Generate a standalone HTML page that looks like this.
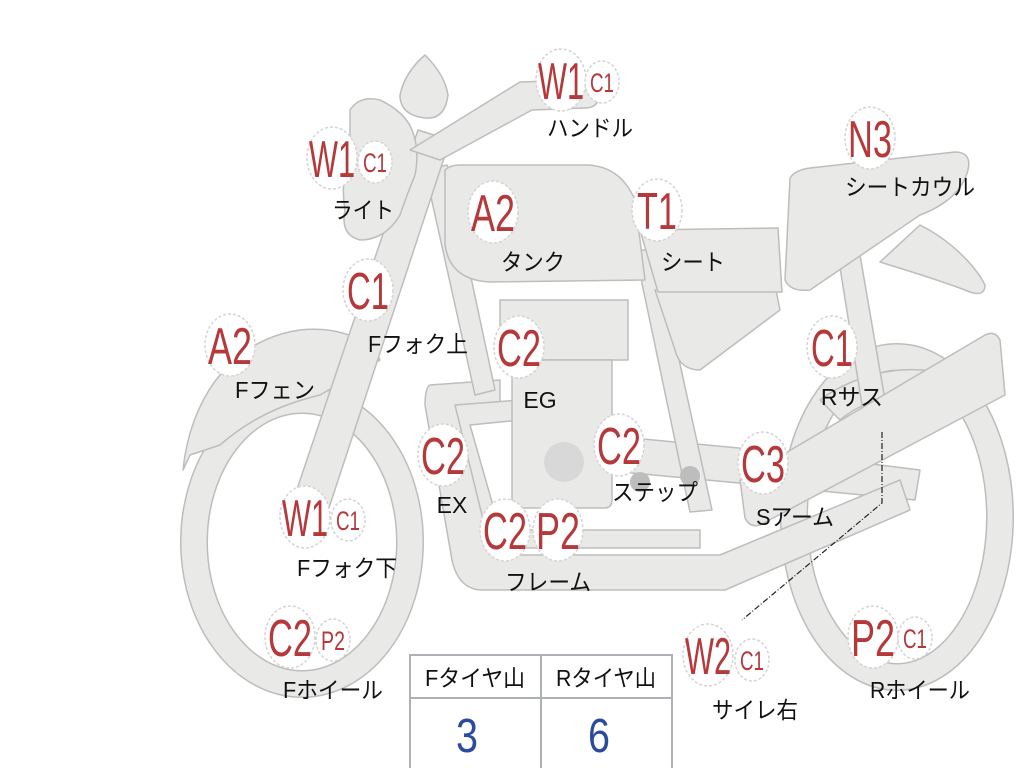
<!DOCTYPE html>
<html><head><meta charset="utf-8">
<style>
html,body{margin:0;padding:0;background:#fff;}
svg{display:block;}
.big{font-family:"Liberation Sans",sans-serif;fill:#b5383a;font-size:52px;text-anchor:middle;}
.sm{font-family:"Liberation Sans",sans-serif;fill:#b5383a;font-size:27px;text-anchor:middle;}
.lb{font-family:"Liberation Sans","Noto Sans CJK JP",sans-serif;fill:#111;font-size:23px;text-anchor:middle;}
.bc{fill:#fff;stroke:#d4d4d4;stroke-width:1.5;stroke-dasharray:3 2;}
</style></head><body>
<svg width="1024" height="768" viewBox="0 0 1024 768" xmlns="http://www.w3.org/2000/svg">
<g fill="#e9e9e7" stroke="#bdbdbd" stroke-width="1.5" stroke-linejoin="round">
<ellipse cx="302" cy="542" rx="108" ry="142" fill="none" stroke="#bdbdbd" stroke-width="28"/>
<ellipse cx="302" cy="542" rx="108" ry="142" fill="none" stroke="#e9e9e7" stroke-width="25"/>
<ellipse cx="897" cy="517" rx="103" ry="160" fill="none" stroke="#bdbdbd" stroke-width="28"/>
<ellipse cx="897" cy="517" rx="103" ry="160" fill="none" stroke="#e9e9e7" stroke-width="25"/>
<path d="M183,470 C190,400 230,340 300,330 C340,326 370,340 380,360 L320,395 C300,400 260,410 220,445 L190,455 Z"/>
<path d="M820,400 C860,370 920,360 960,380 L955,400 C920,385 870,395 840,420 Z"/>
<path d="M600,435 L760,450 L920,470 L915,500 L760,485 L600,470 Z"/>
<path d="M430,385 L500,380 L500,405 L460,410 L495,555 L720,555 L900,480 L910,510 L725,590 L480,590 Q458,588 452,560 L425,405 Q425,388 430,385 Z"/>
<path d="M455,405 L520,400 L520,420 L470,425 L500,530 L700,530 L700,548 L490,548 Z"/>
<path d="M425,170 L447,165 L495,390 L475,395 Z"/>
<rect x="500" y="300" width="128" height="60"/>
<path d="M512,360 L612,360 L612,500 Q612,508 604,508 L520,508 Q512,508 512,500 Z"/>
<circle cx="564" cy="462" r="20" fill="#d8d8d8" stroke="none"/>
<path d="M635,250 L655,250 L712,510 L690,512 Z"/>
<circle cx="640" cy="482" r="10" fill="#bdbdbd" stroke="none"/>
<circle cx="690" cy="476" r="10" fill="#bdbdbd" stroke="none"/>
<path d="M655,290 L775,285 L780,310 L700,370 Q680,370 675,350 Z"/>
<path d="M640,230 L778,228 L782,292 L658,292 Z"/>
<path d="M838,255 L860,255 L885,400 L862,405 Z"/>
<path d="M920,225 C950,240 975,265 985,285 Q985,297 970,292 C940,280 905,270 880,262 Z"/>
<path d="M790,178 Q795,170 810,168 L955,152 Q972,152 968,170 Q960,200 920,215 L810,290 Q790,292 785,280 Z"/>
<path d="M740,480 L985,335 Q995,330 1000,340 L1005,395 L760,525 Q750,528 745,518 Z"/>
<path d="M418,130 L450,140 L325,520 L290,510 Z"/>
<path d="M445,170 Q450,165 460,165 L585,165 Q620,165 635,200 L645,280 L490,282 Q450,280 445,245 Z"/>
<path d="M350,110 Q360,95 380,100 Q405,112 412,130 Q420,150 415,175 Q405,200 400,215 Q385,240 360,240 Q340,235 345,210 Q340,180 350,150 Z"/>
<path d="M410,150 L520,82 L585,80 Q600,82 600,95 Q598,108 585,108 L532,110 L440,160 Z"/>
<path d="M425,55 Q445,75 448,95 Q445,120 425,118 Q400,115 400,95 Q405,72 425,55 Z"/>
</g>
<path d="M882,432 L882,503 L742,620" fill="none" stroke="#222" stroke-width="1.2" stroke-dasharray="6 2 1 2"/>
<g>
<ellipse class="bc" cx="561" cy="80" rx="25" ry="31"/><text class="big" x="561" y="99" textLength="46" lengthAdjust="spacingAndGlyphs">W1</text>
<ellipse class="bc" cx="602" cy="82" rx="17" ry="21"/><text class="sm" x="602" y="92" textLength="24" lengthAdjust="spacingAndGlyphs">C1</text>
<text class="lb" x="590" y="136" textLength="86" lengthAdjust="spacingAndGlyphs">ハンドル</text>

<ellipse class="bc" cx="332" cy="158" rx="25" ry="31"/><text class="big" x="332" y="177" textLength="46" lengthAdjust="spacingAndGlyphs">W1</text>
<ellipse class="bc" cx="375" cy="162" rx="17" ry="21"/><text class="sm" x="375" y="172" textLength="24" lengthAdjust="spacingAndGlyphs">C1</text>
<text class="lb" x="363" y="218" textLength="62" lengthAdjust="spacingAndGlyphs">ライト</text>

<ellipse class="bc" cx="493" cy="212" rx="25" ry="31"/><text class="big" x="493" y="231" textLength="44" lengthAdjust="spacingAndGlyphs">A2</text>
<text class="lb" x="533" y="270" textLength="64" lengthAdjust="spacingAndGlyphs">タンク</text>

<ellipse class="bc" cx="657" cy="210" rx="25" ry="31"/><text class="big" x="657" y="229" textLength="40" lengthAdjust="spacingAndGlyphs">T1</text>
<text class="lb" x="693" y="270" textLength="64" lengthAdjust="spacingAndGlyphs">シート</text>

<ellipse class="bc" cx="870" cy="138" rx="25" ry="31"/><text class="big" x="870" y="157" textLength="44" lengthAdjust="spacingAndGlyphs">N3</text>
<text class="lb" x="910" y="195" textLength="130" lengthAdjust="spacingAndGlyphs">シートカウル</text>

<ellipse class="bc" cx="368" cy="290" rx="25" ry="31"/><text class="big" x="368" y="309" textLength="42" lengthAdjust="spacingAndGlyphs">C1</text>
<text class="lb" x="418" y="352" textLength="100" lengthAdjust="spacingAndGlyphs">Fフォク上</text>

<ellipse class="bc" cx="230" cy="345" rx="25" ry="31"/><text class="big" x="230" y="364" textLength="44" lengthAdjust="spacingAndGlyphs">A2</text>
<text class="lb" x="275" y="398" textLength="80" lengthAdjust="spacingAndGlyphs">Fフェン</text>

<ellipse class="bc" cx="519" cy="347" rx="25" ry="31"/><text class="big" x="519" y="366" textLength="44" lengthAdjust="spacingAndGlyphs">C2</text>
<text class="lb" x="540" y="408">EG</text>

<ellipse class="bc" cx="832" cy="347" rx="25" ry="31"/><text class="big" x="832" y="366" textLength="42" lengthAdjust="spacingAndGlyphs">C1</text>
<text class="lb" x="852" y="405">Rサス</text>

<ellipse class="bc" cx="443" cy="455" rx="25" ry="31"/><text class="big" x="443" y="474" textLength="44" lengthAdjust="spacingAndGlyphs">C2</text>
<text class="lb" x="452" y="513">EX</text>

<ellipse class="bc" cx="619" cy="445" rx="25" ry="31"/><text class="big" x="619" y="464" textLength="44" lengthAdjust="spacingAndGlyphs">C2</text>
<text class="lb" x="655" y="500" textLength="86" lengthAdjust="spacingAndGlyphs">ステップ</text>

<ellipse class="bc" cx="763" cy="463" rx="25" ry="31"/><text class="big" x="763" y="482" textLength="44" lengthAdjust="spacingAndGlyphs">C3</text>
<text class="lb" x="795" y="525" textLength="78" lengthAdjust="spacingAndGlyphs">Sアーム</text>

<ellipse class="bc" cx="305" cy="517" rx="25" ry="31"/><text class="big" x="305" y="536" textLength="46" lengthAdjust="spacingAndGlyphs">W1</text>
<ellipse class="bc" cx="348" cy="520" rx="17" ry="21"/><text class="sm" x="348" y="530" textLength="24" lengthAdjust="spacingAndGlyphs">C1</text>
<text class="lb" x="347" y="576" textLength="100" lengthAdjust="spacingAndGlyphs">Fフォク下</text>

<ellipse class="bc" cx="505" cy="530" rx="25" ry="31"/><text class="big" x="505" y="549" textLength="44" lengthAdjust="spacingAndGlyphs">C2</text>
<ellipse class="bc" cx="558" cy="530" rx="25" ry="31"/><text class="big" x="558" y="549" textLength="44" lengthAdjust="spacingAndGlyphs">P2</text>
<text class="lb" x="548" y="590" textLength="86" lengthAdjust="spacingAndGlyphs">フレーム</text>

<ellipse class="bc" cx="290" cy="637" rx="25" ry="31"/><text class="big" x="290" y="656" textLength="44" lengthAdjust="spacingAndGlyphs">C2</text>
<ellipse class="bc" cx="333" cy="640" rx="17" ry="21"/><text class="sm" x="333" y="650" textLength="24" lengthAdjust="spacingAndGlyphs">P2</text>
<text class="lb" x="333" y="698" textLength="100" lengthAdjust="spacingAndGlyphs">Fホイール</text>

<ellipse class="bc" cx="708" cy="655" rx="25" ry="31"/><text class="big" x="708" y="674" textLength="46" lengthAdjust="spacingAndGlyphs">W2</text>
<ellipse class="bc" cx="752" cy="660" rx="17" ry="21"/><text class="sm" x="752" y="670" textLength="24" lengthAdjust="spacingAndGlyphs">C1</text>
<text class="lb" x="755" y="718" textLength="86" lengthAdjust="spacingAndGlyphs">サイレ右</text>

<ellipse class="bc" cx="873" cy="637" rx="25" ry="31"/><text class="big" x="873" y="656" textLength="44" lengthAdjust="spacingAndGlyphs">P2</text>
<ellipse class="bc" cx="915" cy="638" rx="17" ry="21"/><text class="sm" x="915" y="648" textLength="24" lengthAdjust="spacingAndGlyphs">C1</text>
<text class="lb" x="920" y="698" textLength="100" lengthAdjust="spacingAndGlyphs">Rホイール</text>
</g>
<g fill="none" stroke="#aeb0b8" stroke-width="2">
<rect x="410" y="655" width="262" height="115" fill="#fff"/>
<line x1="410" y1="698" x2="672" y2="698"/>
<line x1="541" y1="655" x2="541" y2="768"/>
</g>
<text class="lb" x="475" y="686" textLength="100" lengthAdjust="spacingAndGlyphs">Fタイヤ山</text>
<text class="lb" x="606" y="686" textLength="100" lengthAdjust="spacingAndGlyphs">Rタイヤ山</text>
<text x="467" y="752" font-family="Liberation Sans,sans-serif" font-size="48" fill="#2b4c9c" text-anchor="middle" textLength="22" lengthAdjust="spacingAndGlyphs">3</text>
<text x="599" y="752" font-family="Liberation Sans,sans-serif" font-size="48" fill="#2b4c9c" text-anchor="middle" textLength="22" lengthAdjust="spacingAndGlyphs">6</text>
</svg>
</body></html>
